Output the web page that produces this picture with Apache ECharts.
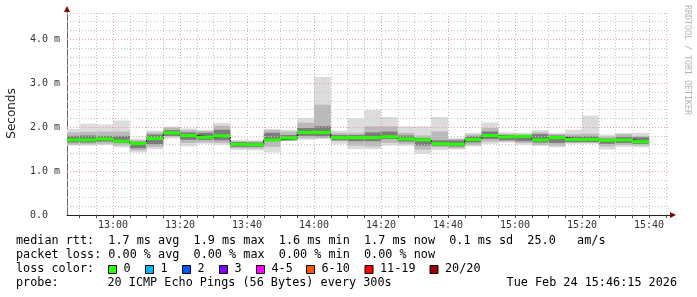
<!DOCTYPE html>
<html><head><meta charset="utf-8">
<script src="https://cdn.jsdelivr.net/npm/echarts@6/dist/echarts.min.js"></script>
<style>html,body{margin:0;padding:0;background:#fff}#c{width:697px;height:297px}</style>
</head><body><div id="c"></div>
<script>
// ---- data (times as HH:MM, values in ms) ----
const axisStart = '12:46:15';
const axisEnd = '15:46:15';
const segEnds = ['12:50','12:55','13:00','13:05','13:10','13:15','13:20','13:25','13:30','13:35','13:40','13:45','13:50','13:55','14:00','14:05','14:10','14:15','14:20','14:25','14:30','14:35','14:40','14:45','14:50','14:55','15:00','15:05','15:10','15:15','15:20','15:25','15:30','15:35','15:40'];
const medianMs = [1.71,1.71,1.73,1.68,1.63,1.74,1.87,1.81,1.77,1.80,1.61,1.60,1.71,1.75,1.88,1.88,1.76,1.76,1.76,1.78,1.73,1.71,1.62,1.61,1.72,1.81,1.78,1.79,1.71,1.76,1.72,1.72,1.70,1.71,1.67];
const maxMs    = [1.96,2.08,2.06,2.15,1.73,1.92,2.01,1.97,1.94,2.10,1.71,1.70,1.96,1.94,2.21,3.14,1.92,2.20,2.39,2.23,2.02,2.02,2.23,1.75,1.87,2.11,1.88,1.87,1.93,1.87,1.94,2.26,1.83,1.87,1.87];
const hi2Ms    = [1.88,1.89,1.90,1.90,1.70,1.88,1.99,1.93,1.91,2.03,1.68,1.68,1.93,1.90,2.10,2.51,1.87,1.87,2.02,2.02,1.87,1.81,1.90,1.73,1.83,1.98,1.85,1.84,1.88,1.84,1.84,1.85,1.79,1.84,1.80];
const hi3Ms    = [1.80,1.81,1.80,1.80,1.67,1.83,1.93,1.88,1.87,1.94,1.66,1.65,1.87,1.82,1.98,2.02,1.82,1.82,1.88,1.90,1.81,1.75,1.70,1.70,1.79,1.90,1.82,1.81,1.84,1.81,1.79,1.79,1.74,1.78,1.77];
const lo3Ms    = [1.65,1.65,1.67,1.64,1.52,1.61,1.80,1.71,1.71,1.70,1.55,1.55,1.68,1.70,1.80,1.79,1.70,1.68,1.68,1.73,1.67,1.58,1.58,1.56,1.65,1.73,1.70,1.68,1.65,1.64,1.66,1.66,1.62,1.64,1.62];
const lo2Ms    = [1.60,1.61,1.62,1.58,1.47,1.55,1.78,1.64,1.65,1.64,1.52,1.51,1.55,1.69,1.75,1.75,1.68,1.58,1.56,1.64,1.62,1.49,1.54,1.52,1.59,1.67,1.67,1.64,1.59,1.58,1.64,1.64,1.56,1.59,1.58];
const minMs    = [1.58,1.58,1.59,1.54,1.42,1.50,1.74,1.56,1.62,1.60,1.48,1.47,1.42,1.69,1.71,1.73,1.62,1.50,1.50,1.58,1.57,1.39,1.48,1.49,1.56,1.62,1.65,1.60,1.57,1.54,1.62,1.62,1.49,1.55,1.54];
const xLabelTicks = ['13:00','13:20','13:40','14:00','14:20','14:40','15:00','15:20','15:40'];
const xGridTicks = ['12:50','12:55','13:00','13:05','13:10','13:15','13:20','13:25','13:30','13:35','13:40','13:45','13:50','13:55','14:00','14:05','14:10','14:15','14:20','14:25','14:30','14:35','14:40','14:45','14:50','14:55','15:00','15:05','15:10','15:15','15:20','15:25','15:30','15:35','15:40','15:45'];
const yLabelTicks = [0, 1, 2, 3, 4];
const yLabelTexts = ['0.0  ', '1.0 m', '2.0 m', '3.0 m', '4.0 m'];
const yMinorTicks = [0.2,0.4,0.6,0.8,1.2,1.4,1.6,1.8,2.2,2.4,2.6,2.8,3.2,3.4,3.6,3.8,4.2,4.4,4.6];
const yMajorTicks = [1, 2, 3, 4];
const yMax = 4.62;
const legendRtt = 'median rtt:  1.7 ms avg  1.9 ms max  1.6 ms min  1.7 ms now  0.1 ms sd  25.0   am/s';
const legendLoss = 'packet loss: 0.00 % avg  0.00 % max  0.00 % min  0.00 % now';
const lossLabels = ['0','1','2','3','4-5','6-10','11-19','20/20'];
const lossColors = ['#26ff00','#00b8ff','#0059ff','#7e00ff','#ff00ff','#ff5500','#ff0000','#a10000'];
const probeText = '20 ICMP Echo Pings (56 Bytes) every 300s';
const dateText = 'Tue Feb 24 15:46:15 2026';
const watermark = 'RRDTOOL / TOBI OETIKER';

// ---- helpers ----
function toMin(s) { const p = s.split(':').map(Number); return p[0]*60 + p[1] + (p[2]||0)/60; }
function fmt(m) { const h = Math.floor(m/60), mm = Math.round(m - h*60); return h + ':' + String(mm).padStart(2,'0'); }
const xMin = toMin(axisStart), xMax = toMin(axisEnd);
const smokeData = segEnds.map((e, i) => {
  const end = toMin(e), start = Math.max(end - 5, xMin);
  return [start, end, minMs[i], lo2Ms[i], lo3Ms[i], medianMs[i], hi3Ms[i], hi2Ms[i], maxMs[i]];
});
const stepData = [];
smokeData.forEach(d => { stepData.push([d[0], d[5]]); stepData.push([d[1], d[5]]); });

const minorStyle = { color: '#c4c4c4', width: 1, type: [1, 2] };
const majorStyle = { color: '#e8a0a0', width: 1, type: [1, 2] };
const majorX = xLabelTicks.map(toMin);
const gridLines = [];
xGridTicks.map(toMin).forEach(v => gridLines.push({ xAxis: v, lineStyle: majorX.indexOf(v) >= 0 ? majorStyle : minorStyle }));
yMinorTicks.forEach(v => gridLines.push({ yAxis: v, lineStyle: minorStyle }));
yMajorTicks.forEach(v => gridLines.push({ yAxis: v, lineStyle: majorStyle }));

const mono = 'DejaVu Sans Mono';
const FONT = '11.8px "DejaVu Sans Mono"';
const chart = echarts.init(document.getElementById('c'), null, { renderer: 'canvas' });

const graphics = [];
graphics.push({ type: 'text', left: 16, top: 235, style: { text: legendRtt, font: FONT, fill: '#000' } });
graphics.push({ type: 'text', left: 16, top: 249, style: { text: legendLoss, font: FONT, fill: '#000' } });
graphics.push({ type: 'text', left: 16, top: 263, style: { text: 'loss color:', font: FONT, fill: '#000' } });
const boxX = [108.5, 145.5, 182.5, 219.5, 256.5, 306.5, 365, 430];
lossLabels.forEach((l, i) => {
  graphics.push({ type: 'rect', shape: { x: boxX[i], y: 265.5, width: 8, height: 8 }, style: { fill: lossColors[i], stroke: '#000', lineWidth: 1 } });
  graphics.push({ type: 'text', left: boxX[i] + 15, top: 263, style: { text: l, font: FONT, fill: '#000' } });
});
graphics.push({ type: 'text', left: 16, top: 277, style: { text: 'probe:', font: FONT, fill: '#000' } });
graphics.push({ type: 'text', left: 107.5, top: 277, style: { text: probeText, font: FONT, fill: '#000' } });
graphics.push({ type: 'text', right: 20, top: 277, style: { text: dateText, font: FONT, fill: '#000' } });
graphics.push({ type: 'text', x: 683, y: 5, rotation: -Math.PI/2, style: { text: watermark, font: '8.3px "DejaVu Sans Mono"', fill: '#b4b4b4', textAlign: 'left', textVerticalAlign: 'bottom' } });

chart.setOption({
  animation: false,
  backgroundColor: '#fff',
  grid: { left: 67, right: 27, top: 12, bottom: 82, containLabel: false, outerBoundsMode: 'none' },
  xAxis: {
    type: 'value', min: xMin, max: xMax,
    axisLine: { show: true, onZero: false, lineStyle: { color: '#222', width: 1 } },
    axisTick: { show: true, length: 3, customValues: xGridTicks.map(toMin), lineStyle: { color: '#444' } },
    axisLabel: { customValues: majorX, formatter: v => fmt(v), fontFamily: mono, fontSize: 10, color: '#333', margin: 5 },
    splitLine: { show: false }
  },
  yAxis: {
    type: 'value', min: 0, max: yMax,
    name: 'Seconds', nameLocation: 'middle', nameRotate: 90, nameGap: 49,
    nameTextStyle: { fontFamily: 'DejaVu Sans', fontSize: 12, color: '#222' },
    axisLine: { show: true, lineStyle: { color: '#666', width: 1 } },
    axisTick: { show: false },
    axisLabel: { customValues: yLabelTicks, formatter: v => yLabelTexts[yLabelTicks.indexOf(Math.round(v))] || '', fontFamily: mono, fontSize: 10, color: '#333', margin: 7 },
    splitLine: { show: false }
  },
  series: [
    {
      type: 'custom', z: 2, clip: true,
      data: smokeData,
      encode: { x: [0, 1], y: [2, 8] },
      renderItem: function (params, api) {
        const s = api.value(0), e = api.value(1);
        function rect(lo, hi, color) {
          const p1 = api.coord([s, hi]), p2 = api.coord([e, lo]);
          return { type: 'rect', shape: { x: p1[0], y: p1[1], width: p2[0] - p1[0], height: p2[1] - p1[1] }, style: { fill: color } };
        }
        return { type: 'group', children: [
          rect(api.value(2), api.value(8), '#dcdcdc'),
          rect(api.value(3), api.value(7), '#bababa'),
          rect(api.value(4), api.value(6), '#7c7c7c')
        ] };
      }
    },
    {
      type: 'line', z: 3, data: [[xMin, 0]], showSymbol: false, symbol: 'none', lineStyle: { width: 0 }, silent: true,
      markLine: { silent: true, symbol: ['none', 'none'], label: { show: false }, animation: false, data: gridLines }
    },
    {
      type: 'line', z: 4, data: stepData, symbol: 'none', showSymbol: false,
      lineStyle: { color: '#111', width: 1 }, silent: true
    },
    {
      type: 'custom', z: 5,
      data: smokeData,
      encode: { x: [0, 1], y: 5 },
      renderItem: function (params, api) {
        const p1 = api.coord([api.value(0), api.value(5)]), p2 = api.coord([api.value(1), api.value(5)]);
        return { type: 'rect', shape: { x: p1[0], y: p1[1] - 1.5, width: p2[0] - p1[0], height: 3 }, style: { fill: '#26ff00' } };
      }
    }
  ],
  graphic: graphics
});

// axis arrows (dark red), placed at axis ends via the chart's own scales
const tl = chart.convertToPixel({ gridIndex: 0 }, [xMin, yMax]);
const br = chart.convertToPixel({ gridIndex: 0 }, [xMax, 0]);
chart.setOption({ graphic: graphics.concat([
  { type: 'polygon', shape: { points: [[tl[0], tl[1] - 6], [tl[0] - 3, tl[1]], [tl[0] + 3, tl[1]]] }, style: { fill: '#8b0000' } },
  { type: 'polygon', shape: { points: [[br[0] + 6, br[1]], [br[0], br[1] - 3], [br[0], br[1] + 3]] }, style: { fill: '#8b0000' } }
]) });
</script></body></html>
